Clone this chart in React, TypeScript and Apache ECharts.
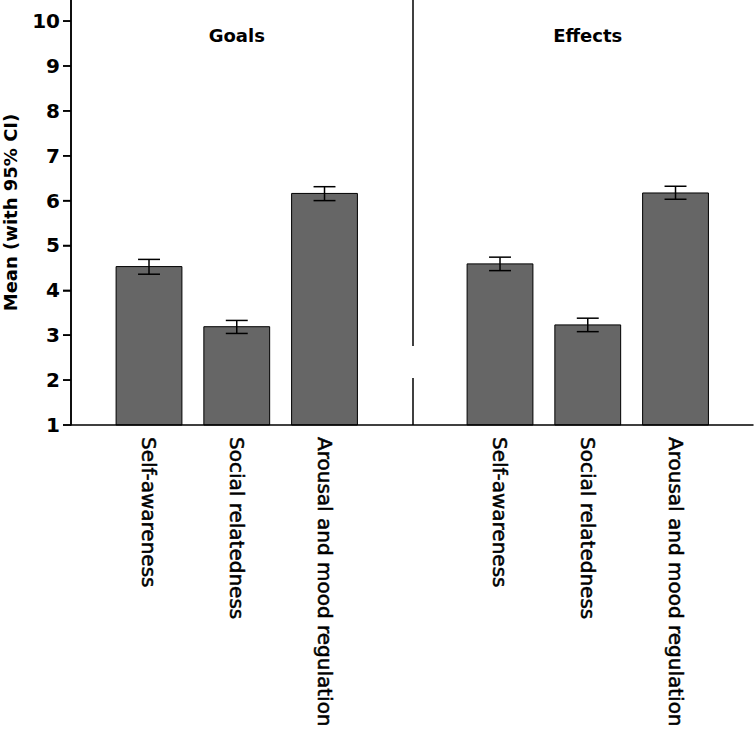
import React, { useEffect, useRef } from "react";
import * as echarts from "echarts";

const categories = ["Self-awareness", "Social relatedness", "Arousal and mood regulation"];
const groups = ["Goals", "Effects"];

const goalsMean = [4.53, 3.19, 6.16];
const goalsLower = [4.36, 3.04, 6.0];
const goalsUpper = [4.69, 3.33, 6.31];

const effectsMean = [4.59, 3.23, 6.17];
const effectsLower = [4.44, 3.08, 6.03];
const effectsUpper = [4.74, 3.38, 6.32];

const yMin = 1;
const yMax = 10.47;
const yInterval = 1;
const yTicks = [1, 2, 3, 4, 5, 6, 7, 8, 9, 10];
const dividerGap = [2.05, 2.76];

const FONT = "DejaVu Sans";

export default function App() {
  const ref = useRef<HTMLDivElement>(null);

  useEffect(() => {
    document.body.style.margin = "0";
    const chart = echarts.init(ref.current!, null, { renderer: "svg" });

    const groupData = [
      { mean: goalsMean, lower: goalsLower, upper: goalsUpper },
      { mean: effectsMean, lower: effectsLower, upper: effectsUpper },
    ];
    const slotsPerGroup = categories.length + 1;
    const slotOffset = 0.889;
    const slotOf = (gi: number, ci: number) => slotOffset + gi * slotsPerGroup + ci;
    const barData: number[][] = [];
    const errData: number[][] = [];
    const labelSlots: number[] = [];
    const labelText: Record<string, string> = {};
    groupData.forEach((g, gi) => {
      categories.forEach((c, ci) => {
        const s = slotOf(gi, ci);
        barData.push([s, g.mean[ci]]);
        errData.push([s, g.lower[ci], g.upper[ci]]);
        labelSlots.push(s);
        labelText[s.toFixed(3)] = c;
      });
    });
    const dividerSlot = slotOf(0, categories.length);
    const groupCenters = groups.map((_, gi) => slotOf(gi, (categories.length - 1) / 2));
    const xMax = slotOf(1, categories.length - 1) + 0.883;

    chart.setOption({
      animation: false,
      backgroundColor: "#fff",
      grid: {
        left: 71,
        right: 1,
        top: 0,
        bottom: 310,
        containLabel: false,
        outerBoundsMode: "none",
      },
      xAxis: {
        type: "value",
        z: 50,
        min: 0,
        max: xMax,
        splitLine: { show: false },
        axisTick: { show: false },
        axisLine: { show: true, onZero: false, lineStyle: { color: "#000", width: 1.5 } },
        axisLabel: {
          customValues: labelSlots,
          formatter: (v: number) => labelText[Number(v).toFixed(3)] ?? " ",
          rotate: -90,
          margin: 12,
          fontSize: 20,
          color: "#000",
          fontFamily: FONT,
          textBorderColor: "#000",
          textBorderWidth: 0.5,
        },
      },
      yAxis: {
        type: "value",
        z: 50,
        min: yMin,
        max: yMax,
        interval: yInterval,
        name: "Mean (with 95% CI)",
        nameLocation: "middle",
        nameGap: 52,
        nameTextStyle: { fontSize: 18, fontWeight: "bold", color: "#000", fontFamily: FONT },
        splitLine: { show: false },
        axisLine: { show: true, onZero: false, lineStyle: { color: "#000", width: 1.5 } },
        axisTick: { show: true, length: 8, lineStyle: { color: "#000", width: 1.5 } },
        axisLabel: {
          fontSize: 20,
          fontWeight: "bold",
          color: "#000",
          fontFamily: FONT,
          margin: 11,
          showMaxLabel: false,
        },
      },
      series: [
        {
          type: "custom",
          data: barData,
          z: 2,
          renderItem: (params: any, api: any) => {
            const x = api.value(0);
            const top = api.coord([x, api.value(1)]);
            const base = api.coord([x, yMin]);
            const w = api.size([0.75, 0])[0];
            return {
              type: "rect",
              shape: { x: top[0] - w / 2, y: top[1], width: w, height: base[1] - top[1] },
              style: { fill: "#666666", stroke: "#000", lineWidth: 1 },
            };
          },
          markLine: {
            silent: true,
            symbol: "none",
            label: { show: false },
            lineStyle: { color: "#000", width: 1.5, type: "solid" },
            data: [
              [{ coord: [dividerSlot, yMin] }, { coord: [dividerSlot, dividerGap[0]] }],
              [{ coord: [dividerSlot, dividerGap[1]] }, { coord: [dividerSlot, yMax] }],
            ],
          },
        },
        {
          type: "custom",
          data: errData,
          z: 5,
          renderItem: (params: any, api: any) => {
            const x = api.value(0);
            const lo = api.coord([x, api.value(1)]);
            const hi = api.coord([x, api.value(2)]);
            const half = api.size([0.25, 0])[0] / 2;
            const style = { stroke: "#000", lineWidth: 1.5 };
            return {
              type: "group",
              children: [
                { type: "line", shape: { x1: lo[0], y1: lo[1], x2: hi[0], y2: hi[1] }, style },
                { type: "line", shape: { x1: lo[0] - half, y1: lo[1], x2: lo[0] + half, y2: lo[1] }, style },
                { type: "line", shape: { x1: hi[0] - half, y1: hi[1], x2: hi[0] + half, y2: hi[1] }, style },
              ],
            };
          },
        },
        {
          type: "custom",
          data: yTicks.map((v) => [0, v]),
          z: 10,
          silent: true,
          clip: false,
          renderItem: (params: any, api: any) => {
            const p = api.coord([0, api.value(1)]);
            const style = { stroke: "#000", lineWidth: 1.5 };
            const children: any[] = [
              { type: "line", shape: { x1: p[0] - 8, y1: p[1], x2: p[0], y2: p[1] }, style },
            ];
            if (params.dataIndex === 0) {
              const a = api.coord([0, yMin]);
              const b = api.coord([0, yMax]);
              children.push({ type: "line", shape: { x1: a[0], y1: a[1], x2: b[0], y2: b[1] }, style });
            }
            return { type: "group", children };
          },
        },
      ],
    });

    const titleGraphics = groups.map((g, gi) => {
      const p = chart.convertToPixel({ xAxisIndex: 0, yAxisIndex: 0 }, [groupCenters[gi], yMin]);
      return {
        type: "text",
        x: p[0],
        y: 35,
        style: {
          text: g,
          align: "center",
          verticalAlign: "middle",
          fontSize: 18,
          fontWeight: "bold",
          fontFamily: FONT,
          fill: "#000",
        },
      };
    });
    chart.setOption({ graphic: titleGraphics });

    return () => chart.dispose();
  }, []);

  return (
    <div
      ref={ref}
      style={{ position: "absolute", left: 0, top: 0, width: 754, height: 735 }}
    />
  );
}
